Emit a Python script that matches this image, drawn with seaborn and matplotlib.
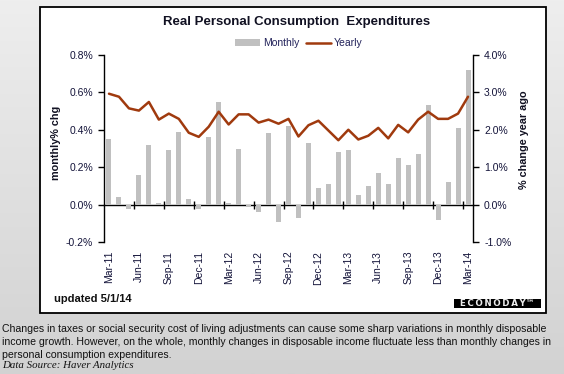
import numpy as np
import pandas as pd
import matplotlib
matplotlib.use('Agg')
import matplotlib.pyplot as plt
import seaborn as sns
from matplotlib.patches import Rectangle, Patch
from matplotlib.lines import Line2D
from matplotlib.colors import LinearSegmentedColormap

# ---- data ----
months = list(pd.date_range('2011-03-01', periods=37, freq='MS').strftime('%b-%y'))
monthly = [0.35, 0.04, -0.02, 0.16, 0.32, 0.01, 0.29, 0.39, 0.03, -0.025,
           0.36, 0.55, 0.01, 0.30, -0.01, -0.04, 0.38, -0.09, 0.42, -0.07,
           0.33, 0.09, 0.11, 0.28, 0.29, 0.05, 0.10, 0.17, 0.11, 0.25,
           0.21, 0.27, 0.53, -0.08, 0.12, 0.41, 0.72]
yearly = [2.96, 2.88, 2.57, 2.51, 2.74, 2.27, 2.43, 2.29, 1.92, 1.81,
          2.08, 2.48, 2.14, 2.41, 2.41, 2.19, 2.27, 2.16, 2.29, 1.82,
          2.12, 2.24, 1.98, 1.72, 2.00, 1.74, 1.84, 2.05, 1.77, 2.13,
          1.93, 2.27, 2.48, 2.29, 2.29, 2.43, 2.88]
tick_labels = months[::3]
left_ticks = [-0.2, 0.0, 0.2, 0.4, 0.6, 0.8]
right_ticks = [-1.0, 0.0, 1.0, 2.0, 3.0, 4.0]

df = pd.DataFrame({'month': months, 'monthly': monthly, 'yearly': yearly,
                   'pos': np.arange(len(months))})

sns.set_theme(style='white')
plt.rcParams['font.family'] = ['Liberation Sans', 'DejaVu Sans']

W, H = 564, 374
fig = plt.figure(figsize=(W / 100, H / 100), dpi=100)

# background gradient
bg = fig.add_axes([0, 0, 1, 1], zorder=-10)
grad = np.linspace(0, 1, 256)[:, None]
bg.imshow(grad, aspect='auto', extent=[0, 1, 0, 1], origin='upper',
          cmap=LinearSegmentedColormap.from_list('g', ['#eeeeee', '#d2d2d2']))
bg.axis('off')

# white panel
fig.patches.append(Rectangle((40 / W, 1 - 313 / H), (546 - 40) / W, (313 - 7) / H,
                             transform=fig.transFigure, facecolor='white',
                             edgecolor='black', lw=1.3, zorder=-5))

txt = '#14143a'
ax = fig.add_axes([104 / W, 1 - 242.3 / H, (473 - 104) / W, 187.6 / H])
ax.set_facecolor('none')
sns.barplot(data=df, x='month', y='monthly', color='#c0c0c0', width=0.5,
            saturation=1, linewidth=0, edgecolor='none', ax=ax)
ax.set_ylim(-0.2, 0.8)
ax.set_yticks(left_ticks)
ax.set_yticklabels([f'{v:.1f}%' for v in left_ticks])
ax.set_xticks(range(0, len(months), 3))
ax.set_xticklabels(tick_labels, rotation=90)
ax.tick_params(axis='x', length=0, pad=6, labelsize=7.5, labelcolor=txt)
ax.tick_params(axis='y', direction='out', length=4, width=1, color='black',
               labelsize=7.5, labelcolor=txt, pad=4, left=True)
ax.set_xlabel('')
ax.set_ylabel('')
for s in ['top', 'bottom', 'right']:
    ax.spines[s].set_visible(False)
ax.spines['left'].set_color('black')
ax.spines['left'].set_linewidth(1)

sec = ax.secondary_xaxis(0.2)
sec.set_xticks(np.arange(2.5, len(months), 3))
sec.set_xticklabels([])
sec.tick_params(direction='inout', length=6, width=1, color='black')
sec.spines['bottom'].set_color('black')
sec.spines['bottom'].set_linewidth(1)

ax2 = ax.twinx()
sns.lineplot(data=df, x='pos', y='yearly', color='#a03a0e', lw=1.8, ax=ax2)
ax2.set_ylim(-1.0, 4.0)
ax2.set_yticks(right_ticks)
ax2.set_yticklabels([f'{v:.1f}%' for v in right_ticks])
ax2.tick_params(axis='y', direction='out', length=4, width=1, color='black',
                labelsize=7.5, labelcolor=txt, pad=4, right=True)
ax2.set_ylabel('')
ax2.set_xlabel('')
for s in ['top', 'bottom', 'left']:
    ax2.spines[s].set_visible(False)
ax2.spines['right'].set_color('black')
ax2.spines['right'].set_linewidth(1)
ax.set_xlim(-0.5, len(months) - 0.5)

# titles / labels
fig.text(297 / W, 1 - 22 / H, 'Real Personal Consumption  Expenditures',
         ha='center', va='center', fontsize=9.5, fontweight='bold', color='#111122')
fig.text(56 / W, 1 - 143 / H, 'monthly% chg', rotation=90, ha='center',
         va='center', fontsize=7.8, fontweight='bold', color='#111122')
fig.text(524 / W, 1 - 140 / H, '% change year ago', rotation=90, ha='center',
         va='center', fontsize=7.8, fontweight='bold', color='#111122')

handles = [Patch(facecolor='#c0c0c0', edgecolor='none'),
           Line2D([], [], color='#a03a0e', lw=1.8)]
fig.legend(handles, ['Monthly', 'Yearly'], loc='center',
           bbox_to_anchor=(299 / W, 1 - 43 / H), ncol=2, frameon=False,
           fontsize=7.5, handlelength=2.4, handleheight=0.6,
           handletextpad=0.3, columnspacing=0.6, labelcolor='#22225a')

fig.text(54 / W, 1 - 299 / H, 'updated 5/1/14', ha='left', va='center',
         fontsize=8, fontweight='bold', color='#111111')
fig.patches.append(Rectangle((454 / W, 1 - 307.5 / H), (541 - 454) / W, 9 / H,
                             transform=fig.transFigure, facecolor='black',
                             edgecolor='none', zorder=2))
fig.text(497.5 / W, 1 - 303.2 / H, '\u2009'.join('ECONODAY') + '\u2122', ha='center',
         va='center', fontsize=6.2, fontweight='bold', color='#eeeeee',
         family='DejaVu Sans', zorder=3)

caption = ('Changes in taxes or social security cost of living adjustments can cause some sharp variations in monthly disposable\n'
           'income growth. However, on the whole, monthly changes in disposable income fluctuate less than monthly changes in\n'
           'personal consumption expenditures.')
fig.text(2 / W, 1 - 324.5 / H, caption, ha='left', va='top', fontsize=7.55,
         color='#111111', linespacing=1.33)
fig.text(2 / W, 1 - 366 / H, 'Data Source: Haver Analytics', ha='left',
         va='center', fontsize=7.8, style='italic', family='Liberation Serif',
         color='#111111')

fig.savefig('out.png', dpi=100)
